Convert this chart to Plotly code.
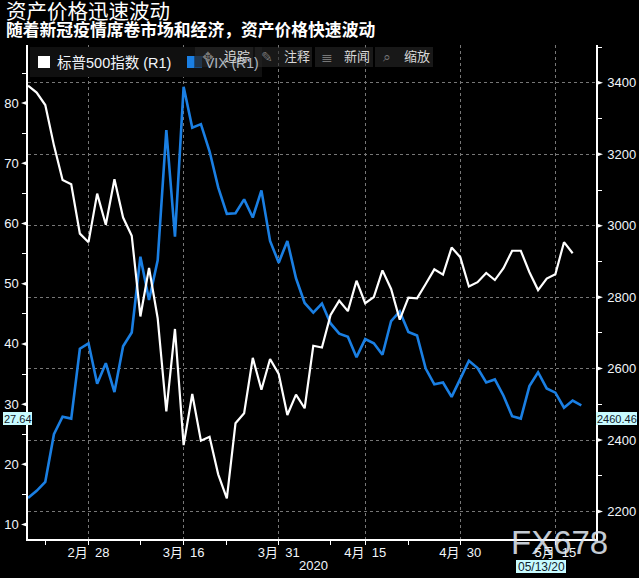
import plotly.graph_objects as go

dates = ["02/19","02/20","02/21","02/24","02/25","02/26","02/27","02/28","03/02","03/03","03/04","03/05","03/06",
         "03/09","03/10","03/11","03/12","03/13","03/16","03/17","03/18","03/19","03/20","03/23","03/24","03/25",
         "03/26","03/27","03/30","03/31","04/01","04/02","04/03","04/06","04/07","04/08","04/09","04/13","04/14",
         "04/15","04/16","04/17","04/20","04/21","04/22","04/23","04/24","04/27","04/28","04/29","04/30","05/01",
         "05/04","05/05","05/06","05/07","05/08","05/11","05/12","05/13","05/14","05/15","05/18","05/19","05/20"]
spx = [3392,3373,3338,3225,3128,3116,2978,2954,3090,3003,3130,3023,2972,2746,2882,2741,2480,2711,2386,2529,2398,
       2409,2304,2237,2447,2475,2630,2541,2627,2585,2470,2527,2489,2664,2659,2750,2790,2761,2846,2783,2800,2875,
       2823,2737,2799,2797,2837,2878,2863,2939,2912,2830,2842,2868,2848,2881,2930,2930,2870,2820,2852,2864,2954,2923]
vix = [14.4,15.6,17.1,25.0,27.9,27.6,39.2,40.1,33.4,36.8,32.0,39.6,41.9,54.5,47.3,53.9,75.5,57.8,82.7,75.9,76.5,
       72.0,66.0,61.6,61.7,64.0,61.0,65.5,57.1,53.5,57.1,50.9,46.8,45.2,46.7,43.4,41.7,41.2,37.8,40.8,40.1,38.2,
       43.8,45.4,42.0,41.4,35.9,33.3,33.6,31.2,34.2,37.2,36.0,33.6,34.1,31.4,28.0,27.6,33.0,35.3,32.6,31.9,29.4,30.6,29.8]
major_x = ["02/28","03/16","03/31","04/15","04/30","05/15"]
major_x_text = ["2月\u00a0\u00a028","3月\u00a0\u00a016","3月\u00a0\u00a031","4月\u00a0\u00a015","4月\u00a0\u00a030","5月\u00a0\u00a015"]
minor_x = ["02/21","03/09","03/23","04/08","04/22"]
left_major = [10,20,30,40,50,60,70,80]
right_major = [2200,2400,2600,2800,3000,3200,3400]
title = "资产价格迅速波动"
subtitle = "随着新冠疫情席卷市场和经济\uff0c资产价格快速波动"
tools = ["追踪","注释","新闻","缩放"]
tool_icons = ["✥","✎","≣","⌕"]
BLUE = "#1a7fe3"
FONT = "Liberation Sans, Noto Sans CJK SC, sans-serif"
TXT = "#f2f6fb"
CURSOR = "#c8fbff"

fig = go.Figure()
fig.add_trace(go.Scatter(x=dates[:len(spx)], y=spx, name="标普500指数 (R1)", yaxis="y2", mode="lines",
                         line=dict(color="white", width=2.2)))
fig.add_trace(go.Scatter(x=dates, y=vix, name="VIX (R1)", yaxis="y", mode="lines",
                         line=dict(color=BLUE, width=2.6)))

shapes = []
for v in left_major:
    shapes.append(dict(type="path", xref="paper", yref="y", xsizemode="pixel", ysizemode="pixel", xanchor=0, yanchor=v,
                       path="M -7 0 L 0 -2.5 L 0 2.5 Z", fillcolor="white", line=dict(width=0), layer="above"))
for v in right_major:
    shapes.append(dict(type="path", xref="paper", yref="y2", xsizemode="pixel", ysizemode="pixel", xanchor=1, yanchor=v,
                       path="M 7 0 L 0 -2.5 L 0 2.5 Z", fillcolor="white", line=dict(width=0), layer="above"))

def px(x0, y0, x1, y1, color, layer="above"):
    shapes.append(dict(type="rect", xref="paper", yref="paper",
                       x0=(x0-28)/568, x1=(x1-28)/568, y0=(539-y1)/494, y1=(539-y0)/494,
                       fillcolor=color, line=dict(width=0), layer=layer))

# legend band, swatches, toolbar buttons, cursor label boxes
px(30, 47, 262, 77, "#101010")
px(38, 56, 50, 68, "white")
px(187, 56, 194, 68, BLUE)
px(194, 56, 202, 68, "#17497d")
px(195, 47, 253, 67, "rgba(40,40,40,0.6)")
px(255, 47, 312, 67, "rgba(40,40,40,0.6)")
px(315, 47, 373, 67, "rgba(40,40,40,0.6)")
px(375, 47, 433, 67, "rgba(40,40,40,0.6)")
px(3, 412, 32, 425, CURSOR)
px(596, 412, 637, 425, CURSOR)
px(516, 560, 566, 573, CURSOR)

anns = []
def note(x, y, text, size=13, color=TXT, anchor="left"):
    anns.append(dict(xref="paper", yref="paper", x=(x-28)/568, y=(539-y)/494, text=text, showarrow=False,
                     xanchor=anchor, yanchor="middle", font=dict(family=FONT, size=size, color=color)))

note(4, 12, title, size=20.5, color="white")
note(4, 30.5, "<b>"+subtitle+"</b>", size=16.8, color="white")
note(55, 63, "标普500指数 (R1)", size=14.5)
note(203, 63, "VIX (R1)", size=14, color="#aeb8c2")
for t, i, ix, tx in zip(tools, tool_icons, [208, 267, 327, 387], [222, 282, 342, 402]):
    note(ix, 57, i, size=14, color="#777777", anchor="center")
    note(tx, 56, t, size=13, color="#d8d8d8")
note(313, 565, "2020", size=13, anchor="center")
note(17.5, 418.5, "27.64", size=11, color="#10202a", anchor="center")
note(616.5, 418.5, "2460.46", size=11, color="#10202a", anchor="center")
note(541, 566.5, "05/13/20", size=12, color="#10202a", anchor="center")
note(559, 542, "FX678", size=33, color="rgba(225,232,242,0.88)", anchor="center")

axis_line = dict(showline=True, linecolor="white", linewidth=1.5, zeroline=False, automargin=False)
fig.update_layout(
    width=639, height=578, paper_bgcolor="black", plot_bgcolor="black", showlegend=False,
    margin=dict(l=28, r=43, t=45, b=39, pad=0, autoexpand=False), font=dict(family=FONT, size=13, color=TXT),
    shapes=shapes, annotations=anns,
    xaxis=dict(type="category", categoryorder="array", categoryarray=dates, range=[0, 65.7],
               tickmode="array", tickvals=major_x, ticktext=major_x_text, ticks="outside", ticklen=4, tickcolor="white",
               ticklabelstandoff=-3,
               showgrid=True, gridcolor="#777777", griddash="3px,3px", gridwidth=1,
               minor=dict(tickmode="array", tickvals=minor_x, ticks="outside", ticklen=4, tickcolor="white", showgrid=False),
               tickfont=dict(size=13, color=TXT), **axis_line),
    yaxis=dict(range=[7.6, 89.65], tickmode="array", tickvals=left_major, ticks="outside", ticklen=5, tickcolor="black",
               minor=dict(dtick=5, tick0=0, ticks="outside", ticklen=4, tickcolor="white", showgrid=False),
               showgrid=False, tickfont=dict(size=13, color=TXT), **axis_line),
    yaxis2=dict(overlaying="y", side="right", range=[2123, 3506], tickmode="array", tickvals=right_major,
                ticks="outside", ticklen=7, tickcolor="black",
                minor=dict(dtick=100, tick0=0, ticks="outside", ticklen=4, tickcolor="white", showgrid=False),
                showgrid=True, gridcolor="#777777", griddash="3px,3px", gridwidth=1,
                tickfont=dict(size=13, color=TXT), **axis_line),
)
fig.write_html("out.html", config=dict(displayModeBar=False),
               post_script="document.body.style.margin='0';document.documentElement.style.background='black';document.documentElement.style.overflow='hidden';")
